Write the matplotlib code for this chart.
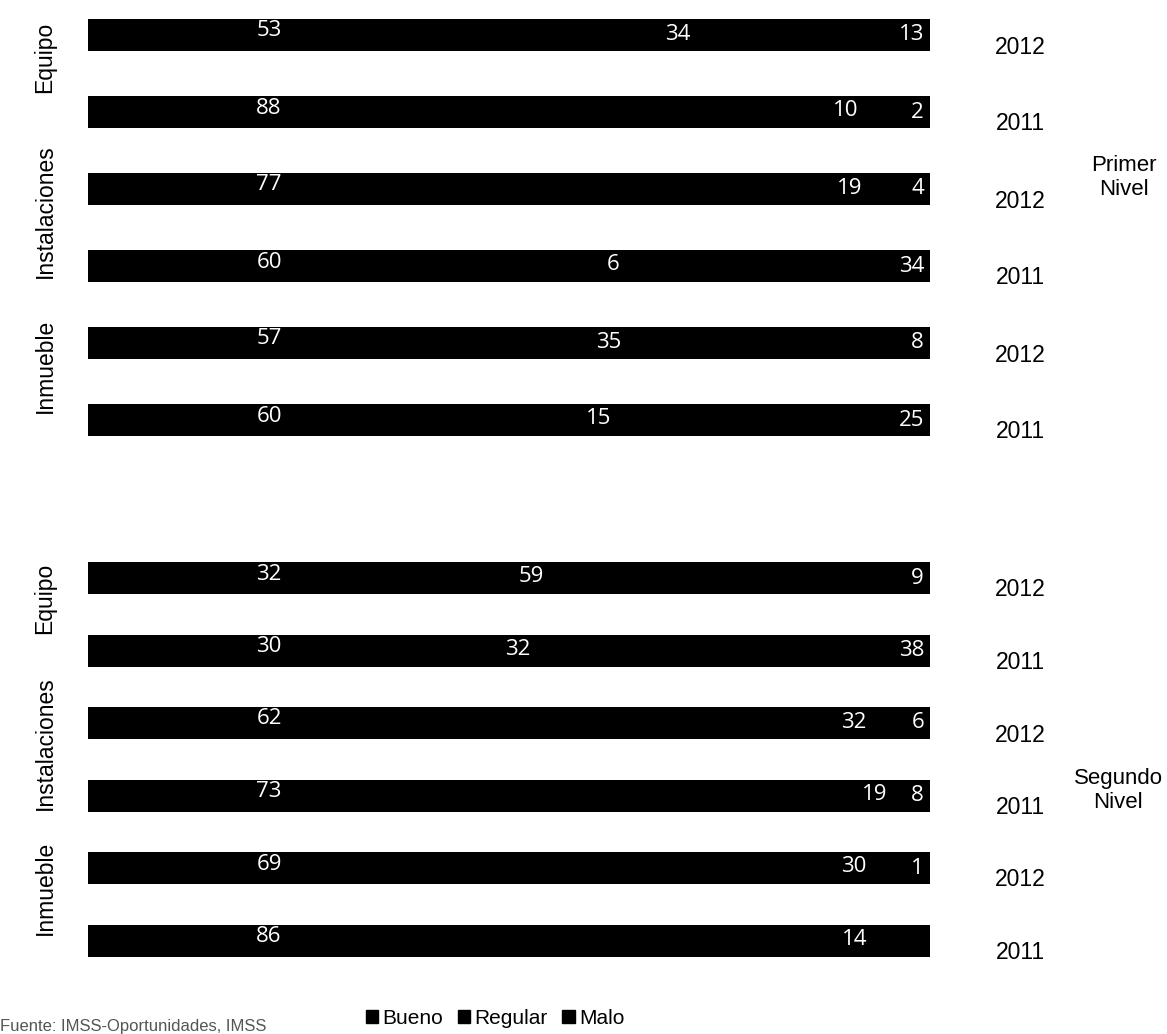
import numpy as np
import matplotlib
matplotlib.use('Agg')
import matplotlib.pyplot as plt
from matplotlib.patches import Patch

# rows: Equipo 2012, Equipo 2011, Instalaciones 2012, Instalaciones 2011, Inmueble 2012, Inmueble 2011
groups = ['Primer\nNivel', 'Segundo\nNivel']
categories = ['Equipo', 'Instalaciones', 'Inmueble']
years = ['2012', '2011']
series = ['Bueno', 'Regular', 'Malo']

bueno_1 = [53, 88, 77, 60, 57, 60]
regular_1 = [34, 10, 19, 6, 35, 15]
malo_1 = [13, 2, 4, 34, 8, 25]

bueno_2 = [32, 30, 62, 73, 69, 86]
regular_2 = [59, 32, 32, 19, 30, 14]
malo_2 = [9, 38, 6, 8, 1, 0]

# where the printed labels sit along the bar (% of bar length), as in the original
regular_label_at_1 = [70, 90, 90.5, 62.4, 61.8, 60.7]
regular_label_at_2 = [52.7, 51, 91, 93.4, 91, 91]

W, H = 1167, 1034
fig = plt.figure(figsize=(W / 100, H / 100), dpi=100)
ax = fig.add_axes([88 / W, 0, 842 / W, 1])
ax.set_xlim(0, 100)
ax.set_ylim(H, 0)
ax.axis('off')

num_font = dict(family=['Open Sans', 'DejaVu Sans'], fontsize=16, color='white')
txt_font = dict(family=['Liberation Sans', 'DejaVu Sans'], fontsize=16.5, color='black')

group_top = [35, 578]
row_step = [77, 72.5]
data = [(bueno_1, regular_1, malo_1, regular_label_at_1),
        (bueno_2, regular_2, malo_2, regular_label_at_2)]

for g, (b, r, m, rpos) in enumerate(data):
    b = np.array(b)
    r = np.array(r)
    m = np.array(m)
    y = group_top[g] + np.arange(len(b)) * row_step[g]
    h = 32
    ax.barh(y, b, height=h, color='black')
    ax.barh(y, r, left=b, height=h, color='black')
    ax.barh(y, m, left=b + r, height=h, color='black')
    for i in range(len(b)):
        ax.text(21.5, y[i] - 4, str(b[i]), ha='center', va='center', **num_font)
        ax.text(rpos[i], y[i] - 1, str(r[i]), ha='center', va='center', **num_font)
        if m[i] > 0:
            ax.text(99.3, y[i], str(m[i]), ha='right', va='center', **num_font)
        fig.text(1020 / W, 1 - (y[i] + 12) / H, years[i % 2], ha='center', va='center', **txt_font)
    for c, cat in enumerate(categories):
        yc = (y[2 * c] + y[2 * c + 1]) / 2 - 16
        fig.text(45 / W, 1 - yc / H, cat, rotation=90, ha='center', va='center', **txt_font)
    ymid = (y[2] + y[3]) / 2 - 50 if g == 0 else y[3] - 5
    xg = 1124 if g == 0 else 1118
    fig.text(xg / W, 1 - ymid / H, groups[g], ha='center', va='center',
             linespacing=1.15, family=['Liberation Sans', 'DejaVu Sans'], fontsize=16)

handles = [Patch(facecolor='black', edgecolor='black', label=s) for s in series]
fig.legend(handles=handles, loc='center', bbox_to_anchor=(495 / W, 1 - 1018 / H), ncol=3,
           frameon=False, handlelength=0.6, handleheight=0.6, handletextpad=0.2,
           columnspacing=0.7, prop={'family': 'Liberation Sans', 'size': 15})

fig.text(0.0, 1 - 1026 / H, 'Fuente: IMSS-Oportunidades, IMSS', ha='left', va='center',
         fontsize=12, color='#555555', family='Liberation Sans')

fig.savefig('out.png', dpi=100, facecolor='white')
